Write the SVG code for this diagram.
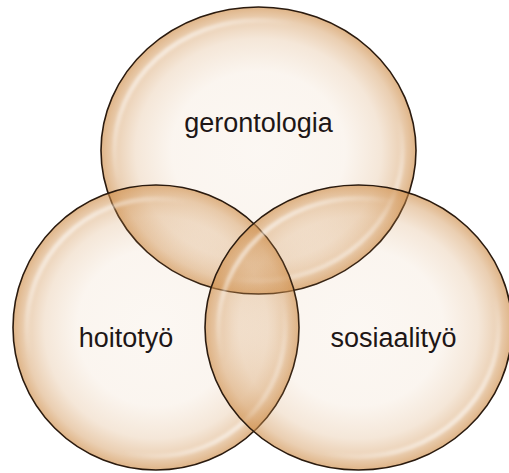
<svg xmlns="http://www.w3.org/2000/svg" width="509" height="473" viewBox="0 0 509 473">
<defs>
<radialGradient id="fillGrad" cx="0.5" cy="0.5" r="0.5">
<stop offset="0" stop-color="#d0914f" stop-opacity="0.07"/>
<stop offset="0.55" stop-color="#d0914f" stop-opacity="0.09"/>
<stop offset="0.78" stop-color="#d0914f" stop-opacity="0.22"/>
<stop offset="0.92" stop-color="#d0914f" stop-opacity="0.44"/>
<stop offset="1" stop-color="#d0914f" stop-opacity="0.68"/>
</radialGradient>
<linearGradient id="shineGrad" x1="0" y1="0" x2="1" y2="1">
<stop offset="0" stop-color="#ffffff" stop-opacity="1"/>
<stop offset="0.32" stop-color="#ffffff" stop-opacity="0"/>
<stop offset="0.68" stop-color="#ffffff" stop-opacity="0"/>
<stop offset="1" stop-color="#ffffff" stop-opacity="1"/>
</linearGradient>
<filter id="soft" x="-10%" y="-10%" width="120%" height="120%">
<feGaussianBlur stdDeviation="1.6"/>
</filter>
</defs>
<style>
.bubble{fill:url(#fillGrad);stroke:#2a1a0e;stroke-width:1.6}
.shine{fill:none;stroke:url(#shineGrad);stroke-width:4.5;filter:url(#soft)}
.label{font-family:"Liberation Sans",Arial,sans-serif;font-size:27px;fill:#1e1616;text-anchor:middle}
</style>
<rect width="509" height="473" fill="#ffffff"/>
<g id="connectors"/>
<g id="node-gerontologia">
<ellipse class="bubble" cx="258.5" cy="150.5" rx="157.5" ry="143.5"/>
<ellipse class="shine" cx="258.5" cy="150.5" rx="144" ry="130"/>
</g>
<g id="node-hoitotyo">
<ellipse class="bubble" cx="156" cy="327.5" rx="143" ry="142.5"/>
<ellipse class="shine" cx="156" cy="327.5" rx="129" ry="128.5"/>
</g>
<g id="node-sosiaalityo">
<ellipse class="bubble" cx="358.5" cy="327.5" rx="153.5" ry="142.5"/>
<ellipse class="shine" cx="358.5" cy="327.5" rx="140" ry="129"/>
</g>
<g id="labels">
<text class="label" x="258.5" y="132">gerontologia</text>
<text class="label" x="126" y="347">hoitotyö</text>
<text class="label" x="393.5" y="347">sosiaalityö</text>
</g>
</svg>
